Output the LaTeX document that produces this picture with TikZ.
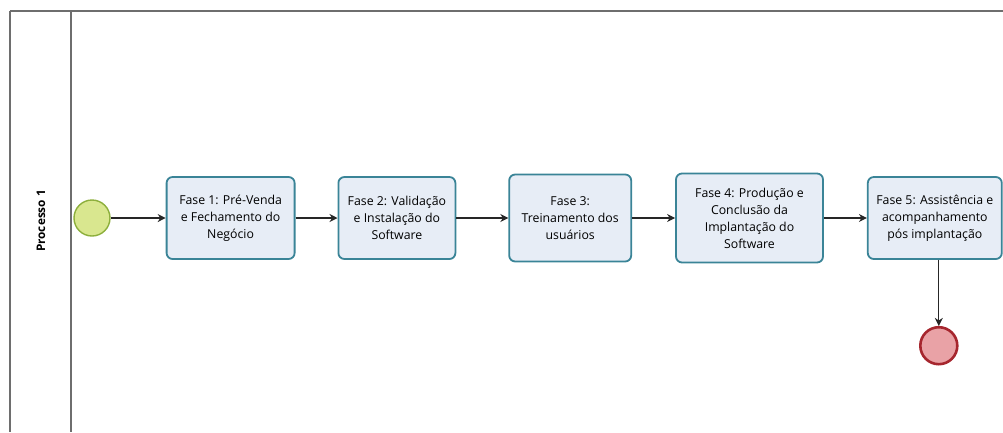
\documentclass[tikz,border=0pt]{standalone}
\usepackage{fontspec}
\setmainfont{Open Sans}
\usetikzlibrary{
  arrows.meta,
  positioning
}
\definecolor{lanegray}{HTML}{6E6E6E}
\definecolor{teal}{HTML}{3A8497}
\definecolor{paleblue}{HTML}{E7EDF6}
\definecolor{startgreen}{HTML}{8DAF3C}
\definecolor{startfill}{HTML}{D9E78F}
\definecolor{endred}{HTML}{A6262E}
\definecolor{endfill}{HTML}{E9A2A6}
\tikzset{
  task/.style={
    draw=teal,
    line width=1.8pt,
    rounded corners=6pt,
    fill=paleblue,
    minimum height=82pt,
    inner sep=2pt,
    align=center,
    font=\fontsize{12.3}{17}\selectfont
  },
  startevent/.style={
    circle,
    draw=startgreen,
    line width=1.4pt,
    fill=startfill,
    minimum size=36pt,
    inner sep=0pt
  },
  endevent/.style={
    circle,
    draw=endred,
    line width=2.6pt,
    fill=endfill,
    minimum size=37pt,
    inner sep=0pt
  },
  flow/.style={-{Stealth[length=8pt,width=8pt]}, line width=1.1pt, draw=black!85},
  lane/.style={draw=lanegray, line width=1.2pt}
}

\begin{document}
\begin{tikzpicture}[x=1pt, y=-1pt]
  \useasboundingbox (0,0) rectangle (1003,432);

  % pool and lane header
  \draw[lane, line width=2pt] (10,11) -- (1003,11);
  \draw[lane] (10,11) -- (10,432);
  \draw[lane] (71,11) -- (71,432);
  \node[rotate=90, font=\fontsize{11.8}{13}\selectfont\bfseries] (lanename)
    at (41,221) {Processo 1};

  \node[startevent] (start) at (92,218) {};

  \node[task, minimum width=128pt, right=55pt of start] (fase1)
    {Fase 1: Pré-Venda\\e Fechamento do\\Negócio};
  \node[task, minimum width=117pt, right=42pt of fase1] (fase2)
    {Fase 2: Validação\\e Instalação do\\Software};
  \node[task, minimum width=122pt, minimum height=87pt, right=52pt of fase2] (fase3)
    {Fase 3:\\Treinamento dos\\usuários};
  \node[task, minimum width=147pt, minimum height=89pt, right=43pt of fase3] (fase4)
    {Fase 4: Produção e\\Conclusão da\\Implantação do\\Software};
  \node[task, minimum width=134pt, right=43pt of fase4] (fase5)
    {Fase 5: Assistência e\\acompanhamento\\pós implantação};

  \node[endevent, below=66pt of fase5.south, anchor=north, xshift=4pt] (fim) {};

  \draw[flow] (start) -- (fase1);
  \draw[flow] (fase1) -- (fase2);
  \draw[flow] (fase2) -- (fase3);
  \draw[flow] (fase3) -- (fase4);
  \draw[flow] (fase4) -- (fase5);
  \draw[flow] (fim.north |- fase5.south) -- (fim);
\end{tikzpicture}
\end{document}
